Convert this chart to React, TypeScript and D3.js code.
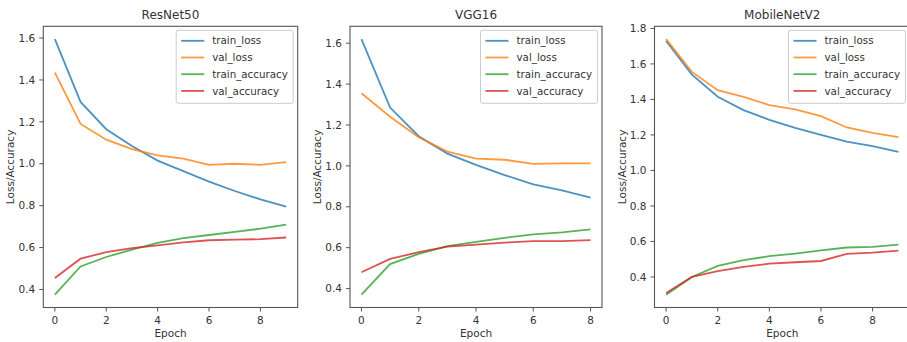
import React from "react";
import * as d3 from "d3";

const seriesNames = ["train_loss", "val_loss", "train_accuracy", "val_accuracy"];
const seriesColors = ["#1f77b4", "#ff7f0e", "#2ca02c", "#d62728"];

const resnetTitle = "ResNet50";
const resnetTrainLoss = [1.595, 1.295, 1.165, 1.085, 1.015, 0.965, 0.915, 0.87, 0.83, 0.795];
const resnetValLoss = [1.435, 1.19, 1.115, 1.07, 1.04, 1.025, 0.995, 1.0, 0.995, 1.008];
const resnetTrainAcc = [0.375, 0.51, 0.555, 0.59, 0.622, 0.645, 0.66, 0.675, 0.69, 0.71];
const resnetValAcc = [0.455, 0.547, 0.578, 0.597, 0.61, 0.625, 0.635, 0.638, 0.64, 0.648];

const vggTitle = "VGG16";
const vggTrainLoss = [1.62, 1.285, 1.145, 1.06, 1.005, 0.955, 0.91, 0.88, 0.845];
const vggValLoss = [1.355, 1.24, 1.14, 1.07, 1.035, 1.03, 1.01, 1.012, 1.012];
const vggTrainAcc = [0.37, 0.52, 0.57, 0.608, 0.628, 0.648, 0.665, 0.675, 0.69];
const vggValAcc = [0.48, 0.545, 0.578, 0.605, 0.615, 0.625, 0.632, 0.632, 0.637];

const mobileTitle = "MobileNetV2";
const mobileTrainLoss = [1.73, 1.54, 1.415, 1.34, 1.285, 1.24, 1.2, 1.162, 1.137, 1.105];
const mobileValLoss = [1.74, 1.555, 1.452, 1.415, 1.368, 1.344, 1.306, 1.242, 1.212, 1.188];
const mobileTrainAcc = [0.3, 0.4, 0.462, 0.495, 0.517, 0.532, 0.55, 0.566, 0.57, 0.582];
const mobileValAcc = [0.31, 0.4, 0.433, 0.457, 0.475, 0.483, 0.49, 0.53, 0.537, 0.548];

const xTicks = [0, 2, 4, 6, 8];
const yTicksA = [0.4, 0.6, 0.8, 1.0, 1.2, 1.4, 1.6];
const yTicksB = [0.4, 0.6, 0.8, 1.0, 1.2, 1.4, 1.6, 1.8];

const panels = [
  { title: resnetTitle, series: [resnetTrainLoss, resnetValLoss, resnetTrainAcc, resnetValAcc], yTicks: yTicksA, x0: 43.3, x1: 297.7 },
  { title: vggTitle, series: [vggTrainLoss, vggValLoss, vggTrainAcc, vggValAcc], yTicks: yTicksA, x0: 350, x1: 602 },
  { title: mobileTitle, series: [mobileTrainLoss, mobileValLoss, mobileTrainAcc, mobileValAcc], yTicks: yTicksB, x0: 654.5, x1: 910 },
];

const TOP = 26.3;
const BOTTOM = 307.5;
const FONT = "DejaVu Sans, sans-serif";
const TEXT = "#333";
const AXIS = "#555";

function Panel({ p }: { p: (typeof panels)[number] }) {
  const n = p.series[0].length;
  const all = p.series.flat();
  const mn = d3.min(all)!;
  const mx = d3.max(all)!;
  const pad = (mx - mn) * 0.05;
  const xpad = (n - 1) * 0.05;
  const x = d3.scaleLinear().domain([-xpad, n - 1 + xpad]).range([p.x0, p.x1]);
  const y = d3.scaleLinear().domain([mn - pad, mx + pad]).range([BOTTOM, TOP]);
  const line = d3
    .line<number>()
    .x((_, i) => x(i))
    .y((d) => y(d));
  const cx = (p.x0 + p.x1) / 2;
  const legRight = p.x1 - 4.5;
  const legLeft = legRight - 117;
  const legTop = TOP + 4;
  return (
    <g>
      {p.series.map((s, i) => (
        <path key={i} d={line(s)!} fill="none" stroke={seriesColors[i]} strokeWidth={1.8} strokeOpacity={0.8} />
      ))}
      <rect x={p.x0} y={TOP} width={p.x1 - p.x0} height={BOTTOM - TOP} fill="none" stroke={AXIS} strokeWidth={1.1} />
      {p.yTicks.map((t) => (
        <g key={t}>
          <line x1={p.x0 - 4} x2={p.x0} y1={y(t)} y2={y(t)} stroke={AXIS} />
          <text x={p.x0 - 8} y={y(t)} dy="0.35em" textAnchor="end" fontSize={10.5} fill={TEXT} fontFamily={FONT}>
            {t.toFixed(1)}
          </text>
        </g>
      ))}
      {xTicks.filter((t) => t <= n - 1).map((t) => (
        <g key={t}>
          <line x1={x(t)} x2={x(t)} y1={BOTTOM} y2={BOTTOM + 4} stroke={AXIS} />
          <text x={x(t)} y={BOTTOM + 16} textAnchor="middle" fontSize={10.5} fill={TEXT} fontFamily={FONT}>
            {t}
          </text>
        </g>
      ))}
      <text x={cx} y={19} textAnchor="middle" fontSize={12} fill={TEXT} fontFamily={FONT}>
        {p.title}
      </text>
      <text x={cx} y={337} textAnchor="middle" fontSize={10.5} fill={TEXT} fontFamily={FONT}>
        Epoch
      </text>
      <text
        transform={`translate(${p.x0 - 29},${(TOP + BOTTOM) / 2}) rotate(-90)`}
        textAnchor="middle"
        fontSize={10.5}
        fill={TEXT}
        fontFamily={FONT}
      >
        Loss/Accuracy
      </text>
      <rect x={legLeft} y={legTop} width={legRight - legLeft} height={73} rx={2} fill="#fff" fillOpacity={0.85} stroke="#ccc" />
      {seriesNames.map((name, i) => {
        const ly = legTop + 10.5 + i * 16.7;
        return (
          <g key={name}>
            <line x1={legLeft + 5} x2={legLeft + 28} y1={ly} y2={ly} stroke={seriesColors[i]} strokeWidth={1.8} strokeOpacity={0.8} />
            <text x={legLeft + 36} y={ly} dy="0.35em" fontSize={10.3} fill={TEXT} fontFamily={FONT}>
              {name}
            </text>
          </g>
        );
      })}
    </g>
  );
}

export default function App() {
  return (
    <svg width={907} height={342} style={{ position: "absolute", left: 0, top: 0, background: "#fff" }}>
      <rect width={907} height={342} fill="#fff" />
      {panels.map((p) => (
        <Panel key={p.title} p={p} />
      ))}
    </svg>
  );
}
